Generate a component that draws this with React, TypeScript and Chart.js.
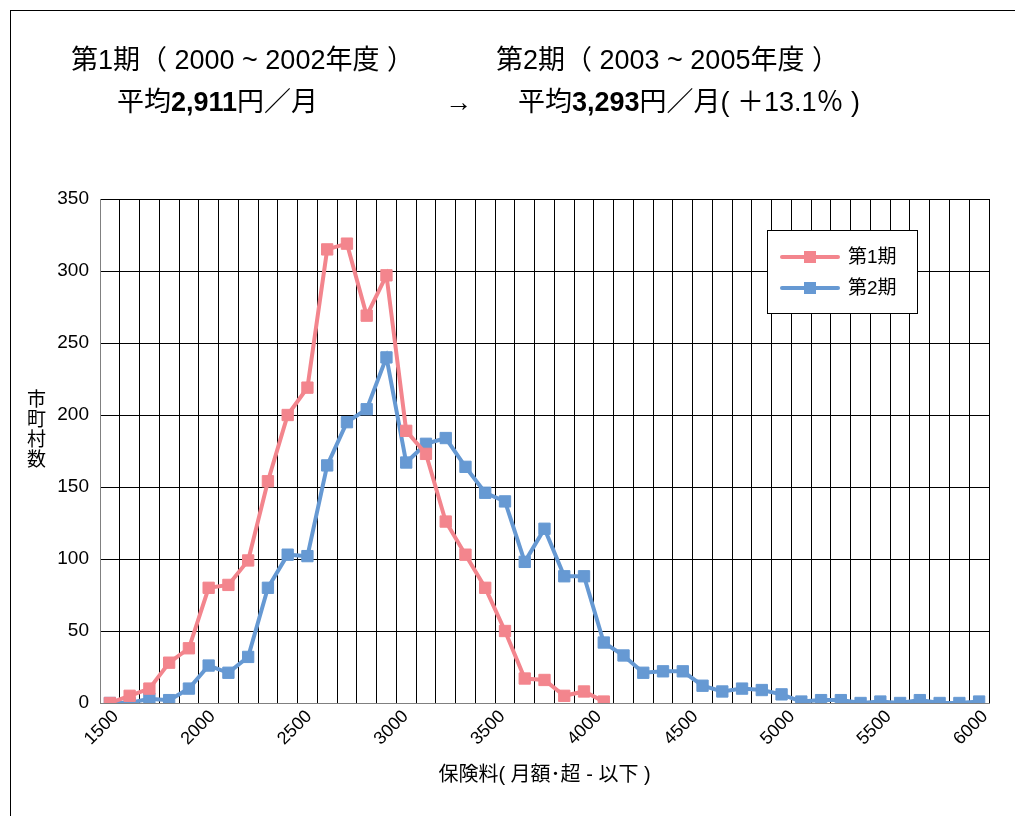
import React, { useEffect, useRef } from 'react';
import { Chart, registerables } from 'chart.js';

Chart.register(...registerables);

const categories = [
  '1500', '1600', '1700', '1800', '1900', '2000', '2100', '2200', '2300', '2400',
  '2500', '2600', '2700', '2800', '2900', '3000', '3100', '3200', '3300', '3400',
  '3500', '3600', '3700', '3800', '3900', '4000', '4100', '4200', '4300', '4400',
  '4500', '4600', '4700', '4800', '4900', '5000', '5100', '5200', '5300', '5400',
  '5500', '5600', '5700', '5800', '5900',
];

const period1 = [
  0, 5, 10, 28, 38, 80, 82, 99, 154, 200,
  219, 315, 319, 269, 297, 189, 173, 126, 103, 80,
  50, 17, 16, 5, 8, 1,
];

const period2 = [
  0, 0, 3, 2, 10, 26, 21, 32, 80, 103,
  102, 165, 195, 204, 240, 167, 180, 184, 164, 146,
  140, 98, 121, 88, 88, 42, 33, 21, 22, 22,
  12, 8, 10, 9, 6, 1, 2, 2, 0, 1,
  0, 2, 0, 0, 1,
];

const xTickValues = [1500, 2000, 2500, 3000, 3500, 4000, 4500, 5000, 5500, 6000];
const yTickValues = [0, 50, 100, 150, 200, 250, 300, 350];

const seriesLabels = ['第1期', '第2期'];
const titleLine1 = ['第1期（ 2000 ~ 2002年度 ）', '第2期（ 2003 ~ 2005年度 ）'];
const avgLabel = '平均';
const avgValues = ['2,911', '3,293'];
const avgUnit = '円／月';
const arrow = '→';
const changeText = '( ＋13.1％ )';
const yTitle = '市町村数';
const xTitle = '保険料( 月額･超 - 以下 )';

const PINK = '#F3858D';
const BLUE = '#6699D3';
const FONT = '"Liberation Sans", Arial, "Noto Sans CJK JP", sans-serif';
const JFONT = '"Noto Sans CJK JP", sans-serif';

const boxLegend = {
  id: 'boxLegend',
  afterDraw(chart: any) {
    const { ctx, chartArea } = chart;
    const x0 = chartArea.right - 222;
    const y0 = chartArea.top + 31;
    const w = 150;
    const h = 83;
    ctx.save();
    ctx.fillStyle = '#ffffff';
    ctx.fillRect(x0, y0, w, h);
    ctx.strokeStyle = '#000000';
    ctx.lineWidth = 1;
    ctx.strokeRect(x0 + 0.5, y0 + 0.5, w, h);
    chart.data.datasets.forEach((ds: any, i: number) => {
      const y = y0 + 27 + i * 31;
      ctx.strokeStyle = ds.borderColor;
      ctx.lineWidth = 4;
      ctx.lineCap = 'round';
      ctx.beginPath();
      ctx.moveTo(x0 + 15, y);
      ctx.lineTo(x0 + 71, y);
      ctx.stroke();
      ctx.fillStyle = ds.pointBackgroundColor;
      ctx.fillRect(x0 + 43 - 6, y - 6, 12, 12);
      ctx.fillStyle = '#000000';
      ctx.font = '19px ' + FONT;
      ctx.textBaseline = 'middle';
      ctx.textAlign = 'left';
      ctx.fillText(ds.label, x0 + 81, y + 1);
    });
    ctx.restore();
  },
};

function ChartCanvas() {
  const ref = useRef<HTMLCanvasElement>(null);
  useEffect(() => {
    if (!ref.current) return;
    const n = categories.length;
    const span = xTickValues[xTickValues.length - 1] - xTickValues[0];
    const range = (span * n) / (n - 1);
    const xlMin = xTickValues[0] - range / (2 * n);
    const xlMax = xlMin + range;
    const chart = new Chart(ref.current, {
      type: 'line',
      data: {
        labels: categories,
        datasets: [
          {
            label: seriesLabels[0],
            data: period1,
            borderColor: PINK,
            backgroundColor: PINK,
            pointBackgroundColor: PINK,
            pointBorderColor: PINK,
            borderWidth: 4,
            pointStyle: 'rect',
            pointRadius: 8,
            pointBorderWidth: 1,
            tension: 0,
            xAxisID: 'x',
            yAxisID: 'y',
          },
          {
            label: seriesLabels[1],
            data: period2,
            borderColor: BLUE,
            backgroundColor: BLUE,
            pointBackgroundColor: BLUE,
            pointBorderColor: BLUE,
            borderWidth: 4,
            pointStyle: 'rect',
            pointRadius: 8,
            pointBorderWidth: 1,
            tension: 0,
            xAxisID: 'x',
            yAxisID: 'y',
          },
        ],
      },
      options: {
        animation: false,
        responsive: false,
        events: [],
        layout: { padding: { left: 0, top: 199, right: 26, bottom: 0 } },
        plugins: {
          legend: { display: false },
          tooltip: { enabled: false },
        },
        scales: {
          x: {
            type: 'category',
            position: 'bottom',
            weight: 0,
            offset: true,
            grid: { offset: true, color: '#000000', lineWidth: 1, drawTicks: false },
            border: { color: '#808080' },
            ticks: { display: false },
            afterFit: (s: any) => {
              s.height = 0;
            },
          },
          xl: {
            type: 'linear',
            position: 'bottom',
            weight: 1,
            min: xlMin,
            max: xlMax,
            grid: { display: false, drawTicks: false },
            border: { display: false },
            afterBuildTicks: (s: any) => {
              s.ticks = xTickValues.map((v) => ({ value: v }));
            },
            ticks: {
              autoSkip: false,
              minRotation: 45,
              maxRotation: 45,
              padding: 3,
              labelOffset: 6,
              color: '#000000',
              font: { family: FONT, size: 18 },
              callback: (v: any) => String(v),
            },
            title: {
              display: true,
              text: xTitle,
              color: '#000000',
              font: { family: FONT, size: 20 },
              padding: { top: 0, bottom: 29 },
            },
            afterFit: (s: any) => {
              s.height = 113;
            },
          },
          y: {
            type: 'linear',
            min: 0,
            max: 350,
            afterBuildTicks: (s: any) => {
              s.ticks = yTickValues.map((v) => ({ value: v }));
            },
            grid: { color: '#000000', lineWidth: 1, drawTicks: false },
            border: { color: '#808080' },
            ticks: {
              padding: 11,
              color: '#000000',
              font: { family: FONT, size: 19 },
            },
            afterFit: (s: any) => {
              s.width = 100;
            },
          },
        },
      },
      plugins: [boxLegend],
    });
    return () => chart.destroy();
  }, []);
  return (
    <canvas
      ref={ref}
      width={1015}
      height={816}
      style={{ position: 'absolute', left: 0, top: 0, width: 1015, height: 816 }}
    />
  );
}

export default function App() {
  const titleStyle: React.CSSProperties = {
    position: 'absolute',
    fontFamily: FONT,
    fontSize: 27,
    fontWeight: 400,
    color: '#000',
    whiteSpace: 'nowrap',
    lineHeight: '30px',
  };
  const bold: React.CSSProperties = { fontWeight: 700 };
  return (
    <div
      style={{
        position: 'fixed',
        left: 0,
        top: 0,
        width: 1015,
        height: 816,
        overflow: 'hidden',
        background: '#fff',
      }}
    >
      <div
        style={{
          position: 'absolute',
          left: 10,
          top: 10,
          width: 1020,
          height: 830,
          border: '1px solid #000',
          boxSizing: 'border-box',
        }}
      />
      <ChartCanvas />
      <div style={{ ...titleStyle, left: 71, top: 45 }}>{titleLine1[0]}</div>
      <div style={{ ...titleStyle, left: 496, top: 45 }}>{titleLine1[1]}</div>
      <div style={{ ...titleStyle, left: 117, top: 87 }}>
        {avgLabel}
        <span style={bold}>{avgValues[0]}</span>
        {avgUnit}
      </div>
      <div style={{ ...titleStyle, left: 445, top: 87 }}>{arrow}</div>
      <div style={{ ...titleStyle, left: 518, top: 87 }}>
        {avgLabel}
        <span style={bold}>{avgValues[1]}</span>
        {avgUnit}
        {changeText}
      </div>
      <div
        style={{
          position: 'absolute',
          left: 26,
          top: 389,
          fontFamily: JFONT,
          fontSize: 19,
          lineHeight: '20px',
          letterSpacing: 1,
          writingMode: 'vertical-rl',
          color: '#000',
        }}
      >
        {yTitle}
      </div>
    </div>
  );
}
